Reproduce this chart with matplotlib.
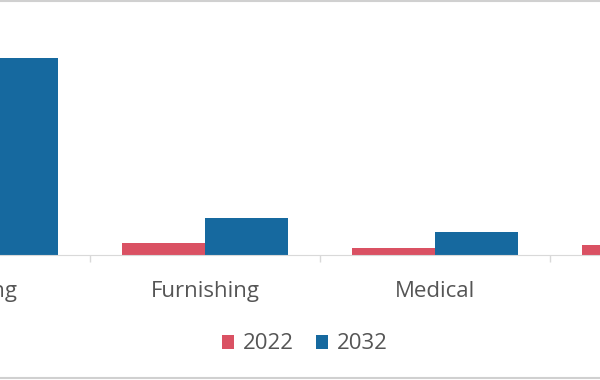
import numpy as np
import matplotlib
matplotlib.use("Agg")
import matplotlib.pyplot as plt
from matplotlib.lines import Line2D

plt.rcParams['font.family'] = ['Open Sans', 'DejaVu Sans']

categories = ["Clothing", "Furnishing", "Medical", "Others"]
years = ["2022", "2032"]
values_2022 = [4.1, 0.6, 0.35, 0.5]
values_2032 = [9.85, 1.85, 1.15, 1.4]

red = "#DA5163"
blue = "#16699F"
grey_text = "#555555"

fig = plt.figure(figsize=(6, 3.8), dpi=100)
# the chart is cropped: axes run past both edges of the picture
ax = fig.add_axes([-140 / 600, 125 / 380, 920 / 600, 255 / 380])

x = np.arange(len(categories))
w = 0.361
ax.bar(x - w / 2, values_2022, w, color=red, label=years[0])
ax.bar(x + w / 2, values_2032, w, color=blue, label=years[1])

for s in ["top", "left", "right"]:
    ax.spines[s].set_visible(False)
ax.spines["bottom"].set_color("#D9D9D9")
ax.set_yticks([])

ax.set_xticks(x)
ax.set_xticklabels(categories, fontsize=16, color=grey_text)
ax.tick_params(axis="x", which="major", length=0, pad=19)
ax.set_xticks(x[:-1] + 0.5, minor=True)
ax.tick_params(axis="x", which="minor", length=5, color="#D9D9D9", width=1)

ax.set_xlim(-0.5, 3.5)
ax.set_ylim(0, 12.75)

fig.legend(loc="center", bbox_to_anchor=(0.508, 0.095), ncol=2, frameon=False,
           fontsize=16, labelcolor=grey_text, handlelength=0.55, handleheight=0.6,
           handletextpad=0.4, columnspacing=1.0)

# thin frame lines at top and bottom of the picture
fig.add_artist(Line2D([0, 1], [0.997, 0.997], transform=fig.transFigure, color="#D0D0D0", lw=1.5))
fig.add_artist(Line2D([0, 1], [0.004, 0.004], transform=fig.transFigure, color="#D0D0D0", lw=1.5))

fig.savefig("out.png", dpi=100)
